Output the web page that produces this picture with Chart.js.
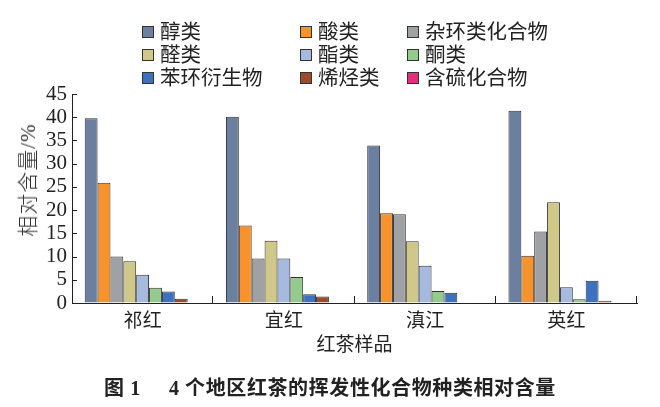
<!DOCTYPE html>
<html>
<head>
<meta charset="utf-8">
<script src="https://cdn.jsdelivr.net/npm/chart.js@4/dist/chart.umd.min.js"></script>
<style>
  html, body { margin: 0; padding: 0; background: #fff; }
  #wrap { position: relative; width: 660px; height: 407px; overflow: hidden; }
  #legend { position: absolute; left: 0; top: 0; width: 660px; height: 90px; font-family: "Liberation Serif", "Noto Sans CJK SC", serif; font-size: 20.5px; color: #222; }
  .item { position: absolute; display: flex; align-items: center; white-space: nowrap; line-height: 20px; }
  .box { width: 10px; height: 10px; border: 1px solid #333; margin-right: 6px; }
  #ytitle { position: absolute; left: 26px; top: 180px; transform: translate(-50%, -50%) rotate(-90deg); font-family: "Liberation Serif", "Noto Sans CJK SC", serif; font-size: 21px; letter-spacing: 1px; font-weight: 300; color: #333; white-space: nowrap; }
  #caption { position: absolute; left: 0; width: 660px; top: 372px; text-align: center; font-family: "Liberation Serif", "Noto Sans CJK SC", serif; font-weight: bold; font-size: 20px; letter-spacing: 0.6px; color: #222; white-space: pre; }
</style>
</head>
<body>
<div id="wrap">
  <canvas id="chart" width="660" height="407"></canvas>
  <div id="legend"></div>
  <div id="ytitle">相对含量/%</div>
  <div id="caption">图 1     4 个地区红茶的挥发性化合物种类相对含量</div>
</div>
<script>
const categories = ['祁红', '宜红', '滇江', '英红'];
const seriesNames = ['醇类', '酸类', '杂环类化合物', '醛类', '酯类', '酮类', '苯环衍生物', '烯烃类', '含硫化合物'];
const seriesColors = ['#6B7FA0', '#F7922C', '#A0A1A5', '#CFC888', '#A6B9DE', '#94CB8C', '#3C72C0', '#9B4A2A', '#E0307A'];

const alcohols = [39.8, 40.1, 33.9, 41.4];
const acids = [25.9, 16.7, 19.3, 10.2];
const heterocycles = [10.0, 9.6, 19.1, 15.4];
const aldehydes = [9.0, 13.4, 13.3, 21.7];
const esters = [6.1, 9.6, 8.0, 3.4];
const ketones = [3.3, 5.6, 2.6, 0.8];
const benzenes = [2.5, 1.9, 2.2, 4.8];
const alkenes = [0.9, 1.4, 0.1, 0.5];
const sulfurs = [0, 0, 0, 0];

const seriesValues = [alcohols, acids, heterocycles, aldehydes, esters, ketones, benzenes, alkenes, sulfurs];

// legend laid out in 3 columns like the original figure
const legendCols = [142, 300, 407];
const legendRows = [32, 55, 78];
const legendDiv = document.getElementById('legend');
seriesNames.forEach((name, i) => {
    const item = document.createElement('div');
    item.className = 'item';
    item.style.left = legendCols[i % 3] + 'px';
    item.style.top = (legendRows[Math.floor(i / 3)] - 10) + 'px';
    item.innerHTML = `<span class="box" style="background:${seriesColors[i]}"></span>${name}`;
    legendDiv.appendChild(item);
});

const fontFamily = '"Liberation Serif", "Noto Sans CJK SC", serif';

// ticks pointing into the plot area
const innerTicks = {
    id: 'innerTicks',
    afterDraw(chart) {
        const { ctx, chartArea, scales } = chart;
        ctx.save();
        ctx.strokeStyle = '#222';
        ctx.lineWidth = 1;
        scales.y.ticks.forEach((t) => {
            const y = Math.round(scales.y.getPixelForValue(t.value)) + 0.5;
            ctx.beginPath();
            ctx.moveTo(chartArea.left, y);
            ctx.lineTo(chartArea.left + 5, y);
            ctx.stroke();
        });
        const step = (chartArea.right - chartArea.left) / categories.length;
        for (let i = 1; i <= categories.length; i++) {
            const x = Math.round(chartArea.left + step * i) - 0.5;
            ctx.beginPath();
            ctx.moveTo(x, chartArea.bottom);
            ctx.lineTo(x, chartArea.bottom - 7);
            ctx.stroke();
        }
        ctx.restore();
    },
};

new Chart(document.getElementById('chart'), {
    type: 'bar',
    data: {
        labels: categories,
        datasets: seriesNames.map((name, i) => ({
            label: name,
            data: seriesValues[i],
            backgroundColor: seriesColors[i],
            borderColor: '#333',
            borderWidth: 1,
            categoryPercentage: 0.82,
            barPercentage: 1.0,
        })),
    },
    options: {
        responsive: false,
        animation: false,
        layout: { padding: { top: 94, right: 23, left: 0, bottom: 50 } },
        plugins: {
            legend: { display: false },
            tooltip: { enabled: false },
        },
        scales: {
            x: {
                grid: { drawOnChartArea: false, drawTicks: false },
                border: { display: true, color: '#222', width: 1 },
                ticks: { color: '#222', font: { family: fontFamily, size: 19 }, padding: 8 },
                title: { display: true, text: '红茶样品', color: '#222', font: { family: fontFamily, size: 19 }, padding: 0 },
                afterFit: (scale) => { scale.height = 54; },
            },
            y: {
                min: 0,
                max: 45,
                grid: { drawOnChartArea: false, drawTicks: false },
                border: { display: true, color: '#222', width: 1 },
                ticks: { stepSize: 5, autoSkip: false, color: '#222', font: { family: fontFamily, size: 21 }, padding: 5 },
                afterFit: (scale) => { scale.width = 72; },
            },
        },
    },
    plugins: [innerTicks],
});
</script>
</body>
</html>
